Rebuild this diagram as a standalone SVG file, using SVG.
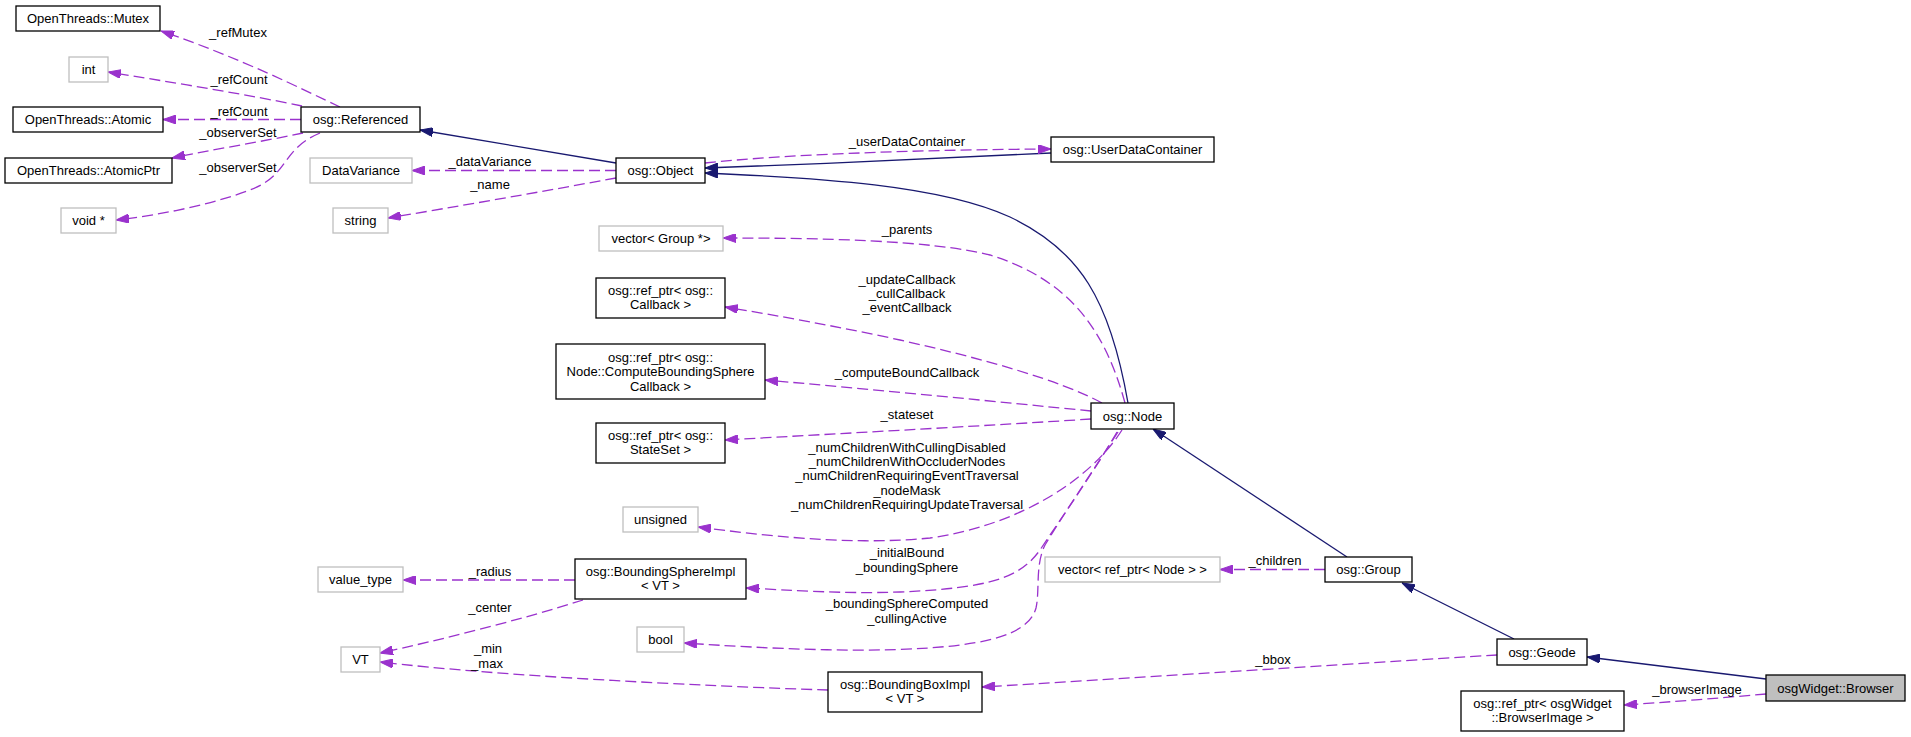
<svg xmlns="http://www.w3.org/2000/svg" width="1911" height="737" viewBox="0 0 1911 737">
<defs>
<style>
.n rect{fill:#fff;stroke:#000;stroke-width:1.3}
.n.g rect{stroke:#bfbfbf}
.n.cur rect{fill:#bfbfbf}
text{font-family:"Liberation Sans",Arial,sans-serif;font-size:13px;fill:#000}
.n text{text-anchor:middle}
.lbl{text-anchor:middle}
.u{fill:none;stroke:#9a32cd;stroke-width:1.3;stroke-dasharray:11,5;marker-end:url(#ap)}
.i{fill:none;stroke:#191970;stroke-width:1.3;marker-end:url(#ab)}
</style>
<marker id="ap" markerUnits="userSpaceOnUse" markerWidth="13" markerHeight="9" refX="13" refY="4.5" orient="auto"><path d="M0,0 L13,4.5 L0,9 z" fill="#9a32cd" stroke="#9a32cd" stroke-width="1"/></marker>
<marker id="ab" markerUnits="userSpaceOnUse" markerWidth="13" markerHeight="9" refX="13" refY="4.5" orient="auto"><path d="M0,0 L13,4.5 L0,9 z" fill="#191970" stroke="#191970" stroke-width="1"/></marker>
</defs>
<rect width="1911" height="737" fill="#fff"/>

<g id="connectors">
<path class="u" d="M340,107 C300,88 240,58 161,31"/>
<path class="u" d="M302,106 C250,95 170,82 108,72"/>
<path class="u" d="M301,119.5 L163,119.5"/>
<path class="u" d="M303,133 C260,142 210,150 172,158"/>
<path class="u" d="M320,133 C280,150 290,175 250,190 C210,205 160,215 116,220"/>
<path class="i" d="M616,163 L420,130"/>
<path class="u" d="M616,170.5 L412,170.5"/>
<path class="u" d="M616,178 C540,192 460,206 388,218"/>
<path class="i" d="M1051,153 C950,158 820,164 705,168"/>
<path class="u" d="M705,163 C780,155 900,150 1051,149"/>
<path class="i" d="M1128,403 C1110,300 1080,250 1010,217 C940,185 820,178 705,173"/>
<path class="u" d="M1125,403 C1105,330 1070,280 990,255 C930,240 820,238 723,238"/>
<path class="u" d="M1102,403 C1060,380 980,358 900,340 C840,327 780,316 725,307"/>
<path class="u" d="M1091,411 C1000,402 880,390 765,380"/>
<path class="u" d="M1091,419 C1000,425 850,433 725,440"/>
<path class="u" d="M1122,430 C1090,480 1020,525 930,538 C850,546 760,535 698,527"/>
<path class="u" d="M1117,432 C1095,470 1060,520 1040,550 C1020,578 990,588 900,592 C840,594 790,590 746,588"/>
<path class="u" d="M1118,432 C1090,475 1060,520 1045,545 C1035,565 1040,590 1036,608 C1030,630 1000,640 960,645 C880,655 760,648 684,643"/>
<path class="u" d="M575,580 L403,580"/>
<path class="u" d="M583,600 C520,620 440,640 380,653"/>
<path class="u" d="M828,690 C700,686 500,676 380,662"/>
<path class="u" d="M1497,655 C1350,664 1100,680 982,687"/>
<path class="u" d="M1325,569.5 L1220,569.5"/>
<path class="i" d="M1347,557 L1153,429"/>
<path class="i" d="M1514,639 L1402,583"/>
<path class="i" d="M1766,679 L1587,657"/>
<path class="u" d="M1766,694 C1720,698 1670,702 1624,705"/>
<text class="lbl" x="238" y="36.5">_refMutex</text>
<text class="lbl" x="239" y="83.5">_refCount</text>
<text class="lbl" x="239" y="116">_refCount</text>
<text class="lbl" x="238" y="136.5">_observerSet</text>
<text class="lbl" x="238" y="171.5">_observerSet</text>
<text class="lbl" x="490" y="166">_dataVariance</text>
<text class="lbl" x="490" y="188.5">_name</text>
<text class="lbl" x="907" y="145.5">_userDataContainer</text>
<text class="lbl" x="907" y="233.5">_parents</text>
<text class="lbl" x="907" y="283.5">_updateCallback</text>
<text class="lbl" x="907" y="297.5">_cullCallback</text>
<text class="lbl" x="907" y="311.5">_eventCallback</text>
<text class="lbl" x="907" y="376.5">_computeBoundCallback</text>
<text class="lbl" x="907" y="418.5">_stateset</text>
<text class="lbl" x="907" y="451.5">_numChildrenWithCullingDisabled</text>
<text class="lbl" x="907" y="465.5">_numChildrenWithOccluderNodes</text>
<text class="lbl" x="907" y="480">_numChildrenRequiringEventTraversal</text>
<text class="lbl" x="907" y="494.5">_nodeMask</text>
<text class="lbl" x="907" y="509">_numChildrenRequiringUpdateTraversal</text>
<text class="lbl" x="907" y="556.5">_initialBound</text>
<text class="lbl" x="907" y="571.5">_boundingSphere</text>
<text class="lbl" x="907" y="607.5">_boundingSphereComputed</text>
<text class="lbl" x="907" y="623">_cullingActive</text>
<text class="lbl" x="490" y="576">_radius</text>
<text class="lbl" x="490" y="611.5">_center</text>
<text class="lbl" x="488" y="652.5">_min</text>
<text class="lbl" x="487" y="667.5">_max</text>
<text class="lbl" x="1273" y="663.5">_bbox</text>
<text class="lbl" x="1275" y="565">_children</text>
<text class="lbl" x="1697" y="693.5">_browserImage</text>
</g>

<g id="mutex" class="n"><rect x="16" y="6" width="144" height="25"/><text x="88" y="23">OpenThreads::Mutex</text></g>
<g id="int" class="n g"><rect x="69" y="57" width="39" height="25"/><text x="88.5" y="74">int</text></g>
<g id="atomic" class="n"><rect x="13" y="107" width="150" height="25"/><text x="88" y="124">OpenThreads::Atomic</text></g>
<g id="atomicptr" class="n"><rect x="5" y="158" width="167" height="25"/><text x="88.5" y="175">OpenThreads::AtomicPtr</text></g>
<g id="voidptr" class="n g"><rect x="61" y="208" width="55" height="25"/><text x="88.5" y="225">void *</text></g>
<g id="referenced" class="n"><rect x="301" y="107" width="119" height="25"/><text x="360.5" y="124">osg::Referenced</text></g>
<g id="datavariance" class="n g"><rect x="310" y="158" width="102" height="25"/><text x="361" y="175">DataVariance</text></g>
<g id="string" class="n g"><rect x="333" y="208" width="55" height="25"/><text x="360.5" y="225">string</text></g>
<g id="object" class="n"><rect x="616" y="158" width="89" height="25"/><text x="660.5" y="175">osg::Object</text></g>
<g id="userdatacontainer" class="n"><rect x="1051" y="137" width="163" height="25"/><text x="1132.5" y="154">osg::UserDataContainer</text></g>
<g id="vectorgroup" class="n g"><rect x="599" y="226" width="124" height="25"/><text x="661" y="243">vector&lt; Group *&gt;</text></g>
<g id="callback" class="n"><rect x="596" y="278" width="129" height="40"/><text x="660.5" y="295">osg::ref_ptr&lt; osg::</text><text x="660.5" y="309">Callback &gt;</text></g>
<g id="computebound" class="n"><rect x="556" y="344" width="209" height="55"/><text x="660.5" y="361.5">osg::ref_ptr&lt; osg::</text><text x="660.5" y="376">Node::ComputeBoundingSphere</text><text x="660.5" y="390.5">Callback &gt;</text></g>
<g id="stateset" class="n"><rect x="596" y="423" width="129" height="40"/><text x="660.5" y="440">osg::ref_ptr&lt; osg::</text><text x="660.5" y="454">StateSet &gt;</text></g>
<g id="node" class="n"><rect x="1091" y="403" width="83" height="26"/><text x="1132.5" y="420.5">osg::Node</text></g>
<g id="unsigned" class="n g"><rect x="623" y="507" width="75" height="25"/><text x="660.5" y="524">unsigned</text></g>
<g id="boundingsphere" class="n"><rect x="575" y="559" width="171" height="40"/><text x="660.5" y="576">osg::BoundingSphereImpl</text><text x="660.5" y="590">&lt; VT &gt;</text></g>
<g id="valuetype" class="n g"><rect x="318" y="567" width="85" height="25"/><text x="360.5" y="584">value_type</text></g>
<g id="vt" class="n g"><rect x="341" y="647" width="39" height="25"/><text x="360.5" y="664">VT</text></g>
<g id="bool" class="n g"><rect x="637" y="627" width="47" height="25"/><text x="660.5" y="644">bool</text></g>
<g id="boundingbox" class="n"><rect x="828" y="672" width="154" height="40"/><text x="905" y="689">osg::BoundingBoxImpl</text><text x="905" y="703">&lt; VT &gt;</text></g>
<g id="vectornode" class="n g"><rect x="1045" y="557" width="175" height="25"/><text x="1132.5" y="574">vector&lt; ref_ptr&lt; Node &gt; &gt;</text></g>
<g id="group" class="n"><rect x="1325" y="557" width="87" height="25"/><text x="1368.5" y="574">osg::Group</text></g>
<g id="geode" class="n"><rect x="1497" y="639" width="90" height="26"/><text x="1542" y="656.5">osg::Geode</text></g>
<g id="browser" class="n cur"><rect x="1766" y="675" width="139" height="26"/><text x="1835.5" y="692.5">osgWidget::Browser</text></g>
<g id="browserimage" class="n"><rect x="1461" y="691" width="163" height="40"/><text x="1542.5" y="708">osg::ref_ptr&lt; osgWidget</text><text x="1542.5" y="722">::BrowserImage &gt;</text></g>
</svg>
